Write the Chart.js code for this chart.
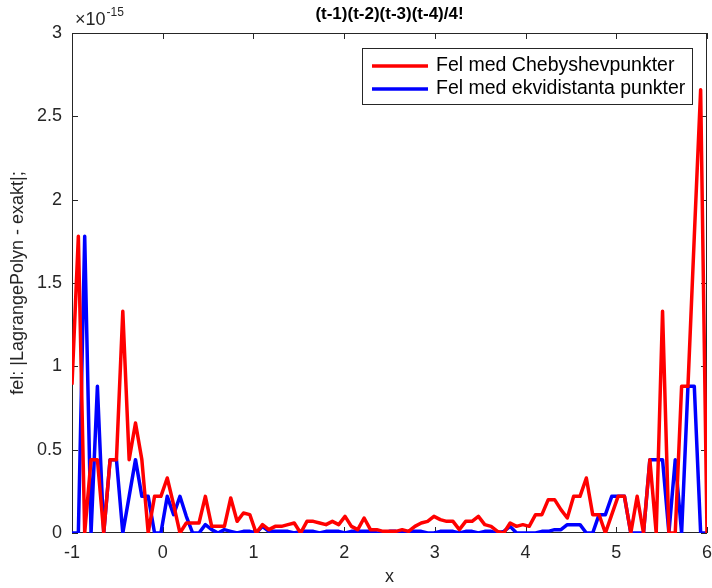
<!DOCTYPE html>
<html>
<head>
<meta charset="utf-8">
<script src="https://cdn.jsdelivr.net/npm/chart.js@4.4.1/dist/chart.umd.min.js"></script>
<style>
  html, body { margin: 0; padding: 0; background: #fff; }
</style>
</head>
<body>
<canvas id="chart" width="712" height="588"></canvas>
<script>
// sample points, x = -1:0.07:6
const xs = [-1, -0.93, -0.86, -0.79, -0.72, -0.65, -0.58, -0.51, -0.44, -0.37,
    -0.3, -0.23, -0.16, -0.09, -0.02, 0.05, 0.12, 0.19, 0.26, 0.33,
    0.4, 0.47, 0.54, 0.61, 0.68, 0.75, 0.82, 0.89, 0.96, 1.03,
    1.1, 1.17, 1.24, 1.31, 1.38, 1.45, 1.52, 1.59, 1.66, 1.73,
    1.8, 1.87, 1.94, 2.01, 2.08, 2.15, 2.22, 2.29, 2.36, 2.43,
    2.5, 2.57, 2.64, 2.71, 2.78, 2.85, 2.92, 2.99, 3.06, 3.13,
    3.2, 3.27, 3.34, 3.41, 3.48, 3.55, 3.62, 3.69, 3.76, 3.83,
    3.9, 3.97, 4.04, 4.11, 4.18, 4.25, 4.32, 4.39, 4.46, 4.53,
    4.6, 4.67, 4.74, 4.81, 4.88, 4.95, 5.02, 5.09, 5.16, 5.23,
    5.3, 5.37, 5.44, 5.51, 5.58, 5.65, 5.72, 5.79, 5.86, 5.93, 6];

// errors, in units of 1e-15
const felCheb = [0.89, 1.78, 0, 0.44, 0.44, 0, 0.44, 0.44, 1.33, 0.44,
    0.66, 0.44, 0, 0.22, 0.22, 0.33, 0.17, 0, 0.06, 0.06,
    0.06, 0.22, 0.04, 0.04, 0.04, 0.21, 0.07, 0.12, 0.11, 0,
    0.05, 0.02, 0.04, 0.04, 0.05, 0.06, 0, 0.07, 0.07, 0.06,
    0.05, 0.07, 0.05, 0.1, 0.04, 0.02, 0.09, 0.02, 0.02, 0.01,
    0.01, 0.01, 0.02, 0.01, 0.04, 0.06, 0.07, 0.1, 0.08, 0.07,
    0.07, 0.02, 0.07, 0.07, 0.1, 0.05, 0.04, 0.01, 0, 0.06,
    0.04, 0.05, 0.04, 0.11, 0.11, 0.2, 0.2, 0.14, 0.09, 0.22,
    0.22, 0.33, 0.11, 0.11, 0, 0.11, 0.22, 0.22, 0, 0.22,
    0, 0.44, 0, 1.33, 0, 0, 0.88, 0.88, 1.78, 2.66, 0];

const felEkv = [0, 0, 1.78, 0, 0.88, 0, 0.44, 0.44, 0, 0.22,
    0.44, 0.22, 0.22, 0, 0, 0.22, 0.11, 0.22, 0.1, 0,
    0, 0.05, 0.02, 0, 0.02, 0.01, 0, 0.01, 0.01, 0,
    0.04, 0.01, 0.01, 0.01, 0.01, 0, 0.01, 0.01, 0.01, 0,
    0.01, 0.01, 0.01, 0, 0.01, 0.01, 0.01, 0.01, 0, 0,
    0.01, 0.01, 0, 0.01, 0.01, 0.01, 0, 0, 0.01, 0.01,
    0.01, 0, 0.01, 0.01, 0, 0.01, 0.01, 0, 0.01, 0.04,
    0, 0, 0, 0, 0.01, 0.01, 0.02, 0.02, 0.05, 0.05,
    0.05, 0, 0, 0.11, 0.11, 0.22, 0.22, 0.22, 0, 0,
    0, 0.44, 0.44, 0.44, 0, 0.44, 0, 0.88, 0.88, 0, 0];

const xTicks = [-1, 0, 1, 2, 3, 4, 5, 6];
const yTicks = [0, 0.5, 1, 1.5, 2, 2.5, 3];

const FONT = '"Liberation Sans", Arial, Helvetica, sans-serif';
const AXIS_COLOR = '#262626';

// box around the axes with inward ticks on all four sides
const axesBox = {
    id: 'axesBox',
    beforeDatasetsDraw(chart) {
        const { ctx, chartArea: a, scales } = chart;
        const len = 6;
        ctx.save();
        ctx.strokeStyle = AXIS_COLOR;
        ctx.lineWidth = 1;
        ctx.strokeRect(a.left + 0.5, a.top + 0.5, a.right - a.left - 1, a.bottom - a.top - 1);
        ctx.beginPath();
        scales.x.ticks.forEach(t => {
            const px = Math.round(scales.x.getPixelForValue(t.value)) + 0.5;
            ctx.moveTo(px, a.bottom);
            ctx.lineTo(px, a.bottom - len);
            ctx.moveTo(px, a.top);
            ctx.lineTo(px, a.top + len);
        });
        scales.y.ticks.forEach(t => {
            const py = Math.round(scales.y.getPixelForValue(t.value)) + 0.5;
            ctx.moveTo(a.left, py);
            ctx.lineTo(a.left + len, py);
            ctx.moveTo(a.right, py);
            ctx.lineTo(a.right - len, py);
        });
        ctx.stroke();
        ctx.restore();
    },
    afterDraw(chart) {
        const { ctx, chartArea: a } = chart;
        ctx.save();
        ctx.fillStyle = '#000';

        // title
        ctx.font = 'bold 17px ' + FONT;
        ctx.textAlign = 'center';
        ctx.textBaseline = 'middle';
        ctx.fillText('(t-1)(t-2)(t-3)(t-4)/4!', (a.left + a.right) / 2, 14);

        // exponent of the y axis
        ctx.fillStyle = AXIS_COLOR;
        ctx.textAlign = 'left';
        ctx.textBaseline = 'alphabetic';
        ctx.font = '18px ' + FONT;
        ctx.fillText('\u00d710', a.left + 3, 25);
        const w = ctx.measureText('\u00d710').width;
        ctx.font = '12px ' + FONT;
        ctx.fillText('-15', a.left + 3 + w + 1, 16);

        // legend
        const box = { left: 362, top: 48, width: 330, height: 56 };
        ctx.fillStyle = '#fff';
        ctx.fillRect(box.left, box.top, box.width, box.height);
        ctx.strokeStyle = AXIS_COLOR;
        ctx.lineWidth = 1;
        ctx.strokeRect(box.left + 0.5, box.top + 0.5, box.width, box.height);
        ctx.font = '19.5px ' + FONT;
        ctx.textBaseline = 'middle';
        chart.data.datasets.forEach((ds, i) => {
            const y = box.top + 18 + i * 23;
            ctx.strokeStyle = ds.borderColor;
            ctx.lineWidth = ds.borderWidth;
            ctx.beginPath();
            ctx.moveTo(box.left + 10, y);
            ctx.lineTo(box.left + 66, y);
            ctx.stroke();
            ctx.fillStyle = '#000';
            ctx.fillText(ds.label, box.left + 74, y);
        });
        ctx.restore();
    }
};

const ctx = document.getElementById('chart').getContext('2d');

new Chart(ctx, {
    type: 'line',
    data: {
        datasets: [{
            label: 'Fel med Chebyshevpunkter',
            data: xs.map((x, i) => ({ x: x, y: felCheb[i] })),
            borderColor: '#ff0000',
            borderWidth: 3.5,
            borderJoinStyle: 'round',
            pointRadius: 0,
            tension: 0
        }, {
            label: 'Fel med ekvidistanta punkter',
            data: xs.map((x, i) => ({ x: x, y: felEkv[i] })),
            borderColor: '#0000ff',
            borderWidth: 3.5,
            borderJoinStyle: 'round',
            pointRadius: 0,
            tension: 0
        }]
    },
    options: {
        responsive: false,
        animation: false,
        layout: {
            padding: { left: 0, right: 5, top: 33, bottom: 0 }
        },
        scales: {
            x: {
                type: 'linear',
                min: xTicks[0],
                max: xTicks[xTicks.length - 1],
                afterFit: scale => {
                    scale.height = 55;
                    scale.paddingLeft = 0;
                    scale.paddingRight = 0;
                },
                afterBuildTicks: scale => { scale.ticks = xTicks.map(v => ({ value: v })); },
                grid: { display: false, drawTicks: false },
                border: { display: false },
                ticks: {
                    padding: 9,
                    color: AXIS_COLOR,
                    font: { family: FONT, size: 18 },
                    callback: v => String(v)
                },
                title: {
                    display: true,
                    text: 'x',
                    color: AXIS_COLOR,
                    font: { family: FONT, size: 18 },
                    padding: { top: 0, bottom: 0 }
                }
            },
            y: {
                min: yTicks[0],
                max: yTicks[yTicks.length - 1],
                afterFit: scale => {
                    scale.width = 72;
                    scale.paddingTop = 0;
                    scale.paddingBottom = 0;
                },
                afterBuildTicks: scale => { scale.ticks = yTicks.map(v => ({ value: v })); },
                grid: { display: false, drawTicks: false },
                border: { display: false },
                ticks: {
                    padding: 10,
                    color: AXIS_COLOR,
                    font: { family: FONT, size: 18 },
                    callback: v => String(v)
                },
                title: {
                    display: true,
                    text: 'fel: |LagrangePolyn - exakt|;',
                    color: AXIS_COLOR,
                    font: { family: FONT, size: 18 },
                    padding: { top: 7, bottom: 0 }
                }
            }
        },
        plugins: {
            legend: { display: false },
            tooltip: { enabled: false }
        }
    },
    plugins: [axesBox]
});
</script>
</body>
</html>
